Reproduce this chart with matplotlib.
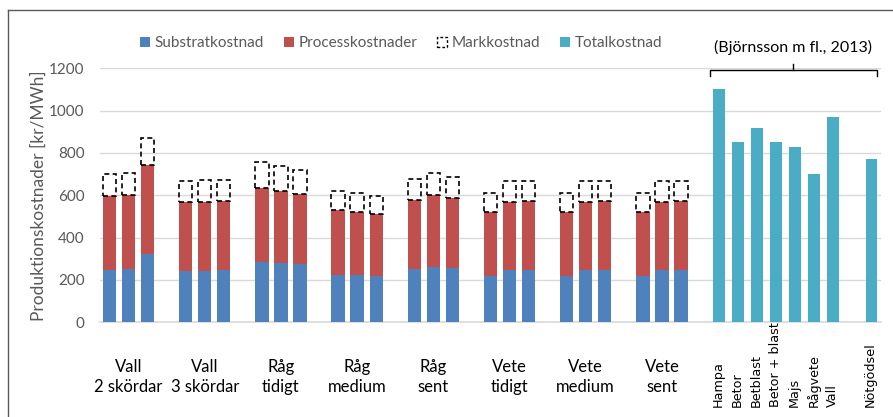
import matplotlib
matplotlib.use("Agg")
import matplotlib.pyplot as plt
from matplotlib.patches import Patch
from matplotlib.lines import Line2D
import numpy as np

# ---- data ----
groups = ["Vall\n2 skördar", "Vall\n3 skördar", "Råg\ntidigt", "Råg\nmedium",
          "Råg\nsent", "Vete\ntidigt", "Vete\nmedium", "Vete\nsent"]
substrat = [249, 252, 321, 243, 243, 247, 287, 282, 274, 225, 222, 219,
            250, 263, 258, 219, 247, 249, 220, 249, 249, 220, 249, 249]
process = [349, 351, 421, 326, 327, 326, 348, 340, 331, 307, 301, 294,
           330, 340, 329, 301, 323, 323, 301, 321, 324, 301, 321, 324]
mark = [103, 104, 130, 100, 102, 101, 122, 117, 115, 90, 88, 85,
        99, 104, 101, 89, 96, 97, 89, 96, 96, 89, 96, 96]
total_labels = ["Hampa", "Betor", "Betblast", "Betor + blast", "Majs",
                "Rågvete", "Vall", "Nötgödsel"]
total_values = [1100, 850, 920, 850, 830, 700, 970, 770]
yticks = [0, 200, 400, 600, 800, 1000, 1200]
legend_labels = ["Substratkostnad", "Processkostnader", "Markkostnad", "Totalkostnad"]
citation = "(Björnsson m fl., 2013)"
ylabel = "Produktionskostnader [kr/MWh]"

BLUE = "#4F81BD"
RED = "#C0504D"
TEAL = "#4BACC6"
GRAY = "#595959"
GRID = "#D9D9D9"
FONT = ["Lato", "DejaVu Sans"]

W, H = 893, 417
fig = plt.figure(figsize=(W / 100, H / 100), dpi=100)
ax = fig.add_axes([100 / W, 1 - 322.3 / H, 781 / W, 254 / H])

# positions: 3 bars per group + 1 gap slot
n_groups = len(groups)
pos = np.array([4 * g + k for g in range(n_groups) for k in range(3)], dtype=float)
sub = np.array(substrat, dtype=float)
proc = np.array(process, dtype=float)
mk = np.array(mark, dtype=float)

ax.bar(pos, sub, width=0.7, color=BLUE, zorder=3)
ax.bar(pos, proc, bottom=sub, width=0.7, color=RED, zorder=3)
ax.bar(pos, mk, bottom=sub + proc, width=0.7, facecolor="none",
       edgecolor="black", linestyle=(0, (3, 2)), linewidth=1.2, zorder=3)

start = 4 * n_groups
tpos = [start + i for i in range(len(total_values) - 1)] + [start + len(total_values)]
ax.bar(tpos, total_values, width=0.62, color=TEAL, zorder=3)

ax.set_xlim(-0.5, 40.5)
ax.set_ylim(0, 1200)
ax.set_yticks(yticks)
ax.set_yticklabels([str(v) for v in yticks], fontfamily=FONT, fontsize=11, color=GRAY)
ax.tick_params(axis="y", length=0, pad=11)
ax.grid(axis="y", color=GRID, linewidth=1, zorder=0)
for s in ["top", "right", "left"]:
    ax.spines[s].set_visible(False)
ax.spines["bottom"].set_color(GRID)
ax.spines["bottom"].set_linewidth(1.2)
ax.set_xticks([])

ax.set_ylabel(ylabel, fontfamily=FONT, fontsize=12.5, color=GRAY)
ax.yaxis.set_label_coords(-0.0685, 0.5)

# group labels
for g, lab in enumerate(groups):
    ax.text(4 * g + 1, -0.217, lab, transform=ax.get_xaxis_transform(),
            ha="center", va="center", fontfamily=FONT, fontsize=12,
            color="black", linespacing=1.3)

# rotated labels for totals
for x, lab in zip(tpos, total_labels):
    ax.text(x - 0.05, -0.333, lab, transform=ax.get_xaxis_transform(),
            ha="center", va="bottom", rotation=90, fontfamily="DejaVu Sans",
            fontsize=9.2, color="black")

# bracket
bx0, bx1 = 31.53, 40.28
bmid = (bx0 + bx1) / 2
ax.plot([bx0, bx0, bx1, bx1], [1165, 1192, 1192, 1165], color="black",
        lw=1.0, clip_on=False, zorder=4)
ax.plot([bmid, bmid], [1192, 1219], color="black", lw=1.0, clip_on=False, zorder=4)
ax.text(bmid, 1300, citation, ha="center", va="center", fontfamily=FONT,
        fontsize=11.5, color="black", clip_on=False)

# legend
handles = [Patch(facecolor=BLUE), Patch(facecolor=RED),
           Patch(facecolor="white", edgecolor="black", linestyle=(0, (2, 1.5)), linewidth=1.0),
           Patch(facecolor=TEAL)]
leg = fig.legend(handles, legend_labels, loc="center",
                 bbox_to_anchor=(401.5 / W, 1 - 43 / H), ncol=4, frameon=False,
                 handlelength=0.65, handleheight=0.65, handletextpad=0.3,
                 columnspacing=1.3, prop={"family": FONT, "size": 11})
for t in leg.get_texts():
    t.set_color(GRAY)

# outer frame (left and top visible)
fig.add_artist(Line2D([8 / W, 8 / W], [0, 1 - 10 / H], transform=fig.transFigure,
                      color=GRAY, lw=1.0))
fig.add_artist(Line2D([8 / W, 1], [1 - 10 / H, 1 - 10 / H], transform=fig.transFigure,
                      color=GRAY, lw=1.0))

fig.savefig("out.png", dpi=100)
